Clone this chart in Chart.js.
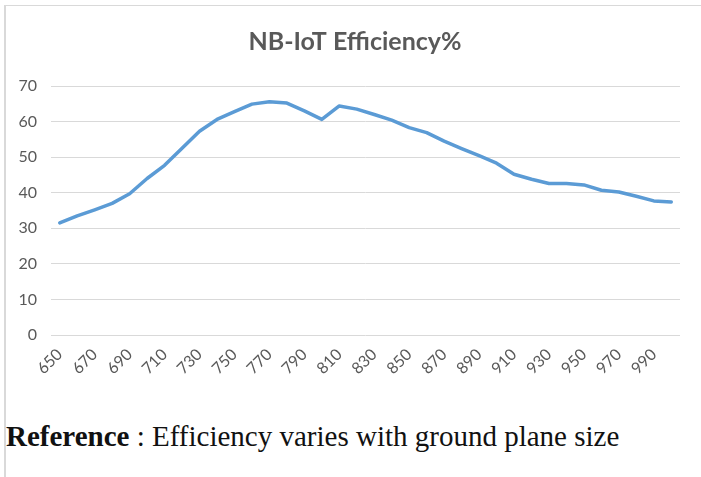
<!DOCTYPE html>
<html>
<head>
<meta charset="utf-8">
<script src="https://cdn.jsdelivr.net/npm/chart.js@4"></script>
<style>
  html, body { margin: 0; padding: 0; background: #fff; width: 701px; height: 477px; overflow: hidden; }
  #frame { position: absolute; left: 4px; top: 5px; width: 720px; height: 500px;
           border-left: 2px solid #d9d9d9; border-top: 1px solid #d9d9d9; }
  #wrap { position: absolute; left: 0; top: 0; width: 701px; height: 410px; }
  #caption { position: absolute; left: 6px; top: 419px; font-family: "Liberation Serif", "Times New Roman", serif;
             font-size: 29px; line-height: 34px; color: #111; white-space: nowrap; }
</style>
</head>
<body>
<div id="frame"></div>
<div id="wrap"><canvas id="c" width="701" height="410"></canvas></div>
<div id="caption"><b>Reference</b> : Efficiency varies with ground plane size</div>
<script>
const categories = ['650','660','670','680','690','700','710','720','730','740','750','760','770','780','790','800','810','820','830','840','850','860','870','880','890','900','910','920','930','940','950','960','970','980','990','1000'];
const tickLabels = ['650','670','690','710','730','750','770','790','810','830','850','870','890','910','930','950','970','990'];
const efficiency = [31.5, 33.5, 35.2, 37.0, 39.7, 44.0, 47.7, 52.5, 57.3, 60.6, 62.8, 64.9, 65.6, 65.2, 63.0, 60.6, 64.4, 63.5, 62.0, 60.4, 58.3, 56.9, 54.5, 52.4, 50.4, 48.3, 45.2, 43.8, 42.6, 42.6, 42.2, 40.7, 40.2, 39.0, 37.7, 37.4];
const yTicks = [0, 10, 20, 30, 40, 50, 60, 70];

// centre the title over x = 355 like the reference
const titleShift = {
  id: 'titleShift',
  afterLayout(chart) {
    if (chart.titleBlock) { chart.titleBlock.left = 30; chart.titleBlock.right = 680; }
  }
};

new Chart(document.getElementById('c'), {
  type: 'line',
  data: {
    labels: categories,
    datasets: [{
      label: 'NB-IoT Efficiency%',
      data: efficiency,
      borderColor: '#5b9bd5',
      borderWidth: 3.5,
      pointRadius: 0,
      tension: 0,
      fill: false,
      borderCapStyle: 'round',
      borderJoinStyle: 'round'
    }]
  },
  plugins: [titleShift],
  options: {
    responsive: false,
    animation: false,
    devicePixelRatio: 1,
    layout: { padding: { left: 0, right: 21, top: 0, bottom: 0 } },
    plugins: {
      legend: { display: false },
      tooltip: { enabled: false },
      title: {
        display: true,
        text: 'NB-IoT Efficiency%',
        color: '#595959',
        font: { family: 'Lato', size: 25, weight: 'bold', lineHeight: 1.2 },
        padding: { top: 27, bottom: 29 }
      }
    },
    scales: {
      x: {
        type: 'category',
        offset: true,
        grid: { display: false, drawTicks: false },
        border: { display: false },
        ticks: {
          autoSkip: false,
          minRotation: 45,
          maxRotation: 45,
          padding: 10,
          color: '#595959',
          font: { family: 'Lato', size: 16 },
          callback: function (value, index) {
            const lab = categories[index];
            return tickLabels.includes(lab) ? lab : '';
          }
        },
        afterFit: function (s) { s.height = 75; }
      },
      y: {
        min: 0,
        max: 70,
        afterBuildTicks: function (s) { s.ticks = yTicks.map(v => ({ value: v })); },
        grid: { color: '#d9d9d9', lineWidth: 1, drawTicks: false },
        border: { display: false },
        ticks: { padding: 14, color: '#595959', font: { family: 'Lato', size: 16 } },
        afterFit: function (s) { s.width = 51; }
      }
    }
  }
});
</script>
</body>
</html>
